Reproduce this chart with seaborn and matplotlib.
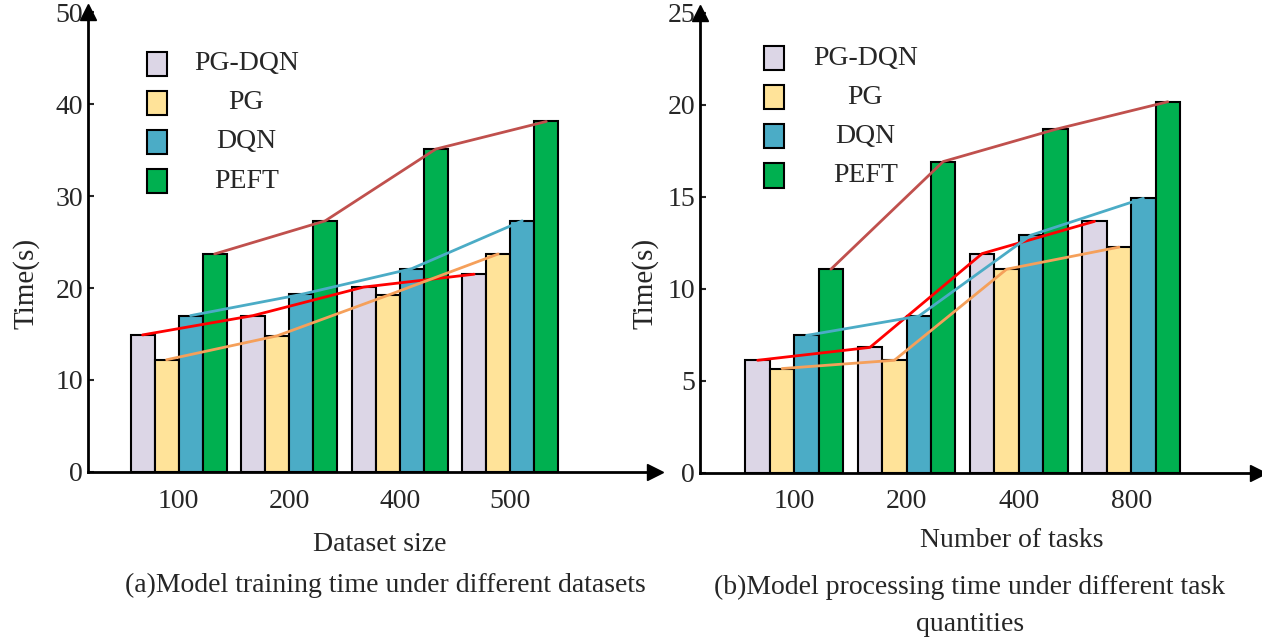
import pandas as pd
import numpy as np
import matplotlib.pyplot as plt
from matplotlib.patches import Rectangle
import seaborn as sns

# Data
methods = ['PG-DQN', 'PG', 'DQN', 'PEFT']
bar_colors = ['#DCD6E6', '#FFE399', '#4BACC6', '#00B050']
line_colors = ['#FF0000', '#F5A05A', '#4BACC6', '#C0504D']

dataset_sizes = ['100', '200', '400', '500']
train_pgdqn = [14.9, 17.0, 20.1, 21.5]
train_pg = [12.2, 14.8, 19.2, 23.7]
train_dqn = [17.0, 19.3, 22.1, 27.3]
train_peft = [23.7, 27.3, 35.1, 38.1]

task_counts = ['100', '200', '400', '800']
proc_pgdqn = [6.1, 6.8, 11.9, 13.65]
proc_pg = [5.65, 6.1, 11.05, 12.25]
proc_dqn = [7.45, 8.5, 12.9, 14.9]
proc_peft = [11.05, 16.9, 18.65, 20.15]

sns.set_theme(style="white")
plt.rcParams['font.family'] = ['Liberation Serif', 'DejaVu Serif']

fig = plt.figure(figsize=(12.62, 6.42), dpi=100)
ax1 = fig.add_axes([88 / 1262, 0.2648, 567 / 1262, 0.7165])
ax2 = fig.add_axes([700 / 1262, 0.264, 558 / 1262, 0.7165])

BAR_W = 0.87


def draw_panel(ax, cats, series, ymax, yticks, xlim, xlabel, xlab_pos, ylab_x, leg_x, leg_y0, leg_tx):
    df = pd.DataFrame({
        'cat': [c for c in cats for _ in methods],
        'method': [m for _ in cats for m in methods],
        'time': [series[j][i] for i in range(len(cats)) for j in range(len(methods))],
    })
    sns.barplot(data=df, x='cat', y='time', hue='method', order=cats, hue_order=methods,
                palette=bar_colors, width=BAR_W, edgecolor='black', linewidth=1.5,
                errorbar=None, legend=False, saturation=1, ax=ax)

    # lines joining the bar tops of each method
    step = BAR_W / len(methods)
    for j, vals in enumerate(series):
        xs = np.arange(len(cats)) + (j - 1.5) * step
        ax.plot(xs, vals, color=line_colors[j], lw=2, zorder=5, solid_capstyle='round')

    ax.set_xlim(*xlim)
    ax.set_ylim(0, ymax)
    ax.set_yticks(yticks)
    ax.set_yticklabels([str(t) for t in yticks])
    ax.tick_params(axis='y', direction='in', length=4, width=1.5, labelsize=20, pad=3.5, left=True)
    ax.tick_params(axis='x', length=0, labelsize=20, pad=12)

    for s in ['top', 'right']:
        ax.spines[s].set_visible(False)
    for s in ['left', 'bottom']:
        ax.spines[s].set_linewidth(2)
        ax.spines[s].set_color('black')
    ax.plot(1, 0, '>', color='black', ms=11, transform=ax.transAxes, clip_on=False)
    ax.plot(0, 1, '^', color='black', ms=11, transform=ax.transAxes, clip_on=False)

    ax.set_xlabel(xlabel, fontsize=20)
    ax.xaxis.set_label_coords(*xlab_pos)
    ax.set_ylabel('Time(s)', fontsize=21)
    ax.yaxis.set_label_coords(ylab_x, 0.41)

    # legend with centred labels
    for j, m in enumerate(methods):
        yc = leg_y0 - j * 0.0848
        ax.add_patch(Rectangle((leg_x, yc - 0.027), 0.0355, 0.054, transform=ax.transAxes,
                               facecolor=bar_colors[j], edgecolor='black', lw=1.5,
                               clip_on=False, zorder=6))
        ax.text(leg_tx, yc, m, transform=ax.transAxes, ha='center', va='center', fontsize=20)


draw_panel(ax1, dataset_sizes, [train_pgdqn, train_pg, train_dqn, train_peft],
           50, [0, 10, 20, 30, 40, 50], (-0.82, 4.31), 'Dataset size',
           (0.515, -0.13), -0.085, 0.104, 0.887, 0.279)
draw_panel(ax2, task_counts, [proc_pgdqn, proc_pg, proc_dqn, proc_peft],
           25, [0, 5, 10, 15, 20, 25], (-0.84, 4.13), 'Number of tasks',
           (0.559, -0.12), -0.074, 0.1147, 0.901, 0.296)

fig.text(385 / 1262, 1 - 585 / 642, '(a)Model training time under different datasets',
         ha='center', va='center', fontsize=20)
fig.text(970 / 1262, 1 - 606 / 642, '(b)Model processing time under different task\nquantities',
         ha='center', va='center', fontsize=20, linespacing=1.6)

fig.savefig('out.png', dpi=100)
